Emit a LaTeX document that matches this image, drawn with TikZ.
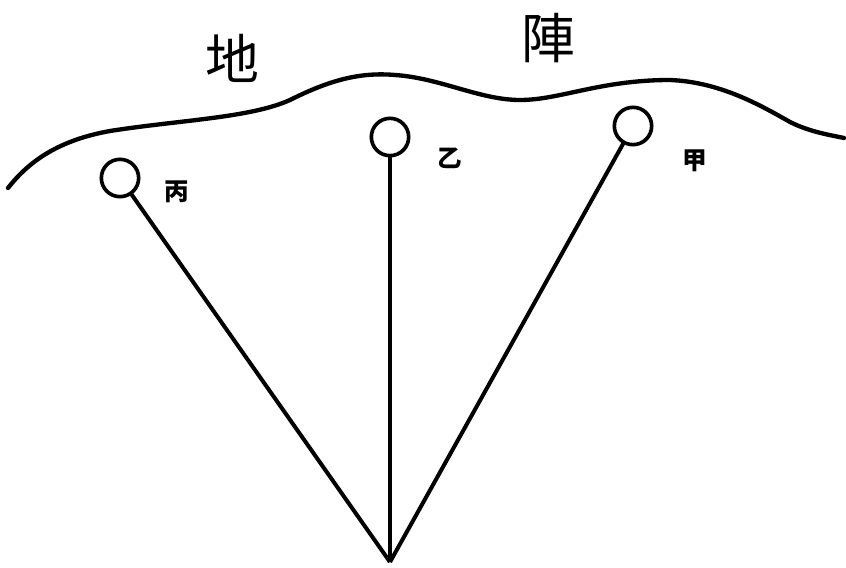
\documentclass[tikz,border=0pt]{standalone}
\usepackage{fontspec}
\newfontfamily\cjk{Noto Sans CJK JP}
\usetikzlibrary{positioning}

\begin{document}
\begin{tikzpicture}[
    x=0.03cm, y=-0.03cm,
    post_style/.style={
        circle,
        draw=black,
        line width=1.1mm,
        minimum size=1.12cm,
        inner sep=0pt,
        outer sep=0pt
    },
    tag_style/.style={text=black, font=\cjk\bfseries\fontsize{21}{21}\selectfont, inner sep=0pt},
    big_style/.style={text=black, font=\cjk\fontsize{46}{46}\selectfont, inner sep=0pt},
    rope_style/.style={draw=black, line width=1.2mm},
    line_style/.style={draw=black, line width=1.3mm, line cap=round}
]

\useasboundingbox (0,0) rectangle (846,568);

% position line
\draw[line_style] (8,188) .. controls (30,160) and (60,140) .. (110,131)
    .. controls (180,120) and (250,118) .. (290,100)
    .. controls (330,80) and (360,72) .. (395,75)
    .. controls (440,78) and (480,100) .. (520,100)
    .. controls (560,100) and (600,80) .. (670,80)
    .. controls (720,82) and (760,105) .. (790,122)
    .. controls (810,132) and (830,135) .. (844,138);

\node[big_style] (di) at (232,58) {地};
\node[big_style] (zhen) at (548,38) {陣};

% the three posts
\node[post_style] (bing) at (120,178) {};
\node[post_style] (yi) at (390,137) {};
\node[post_style] (jia) at (633,126) {};

\node[tag_style, right=22pt of bing, yshift=-12pt] (bing_t) {丙};
\node[tag_style, right=24pt of yi, yshift=-18pt] (yi_t) {乙};
\node[tag_style, right=26pt of jia, yshift=-30pt] (jia_t) {甲};

\coordinate (apex) at (390,562);

\draw[rope_style] (bing) -- (apex);
\draw[rope_style] (yi) -- (apex);
\draw[rope_style] (jia) -- (apex);

\end{tikzpicture}
\end{document}
